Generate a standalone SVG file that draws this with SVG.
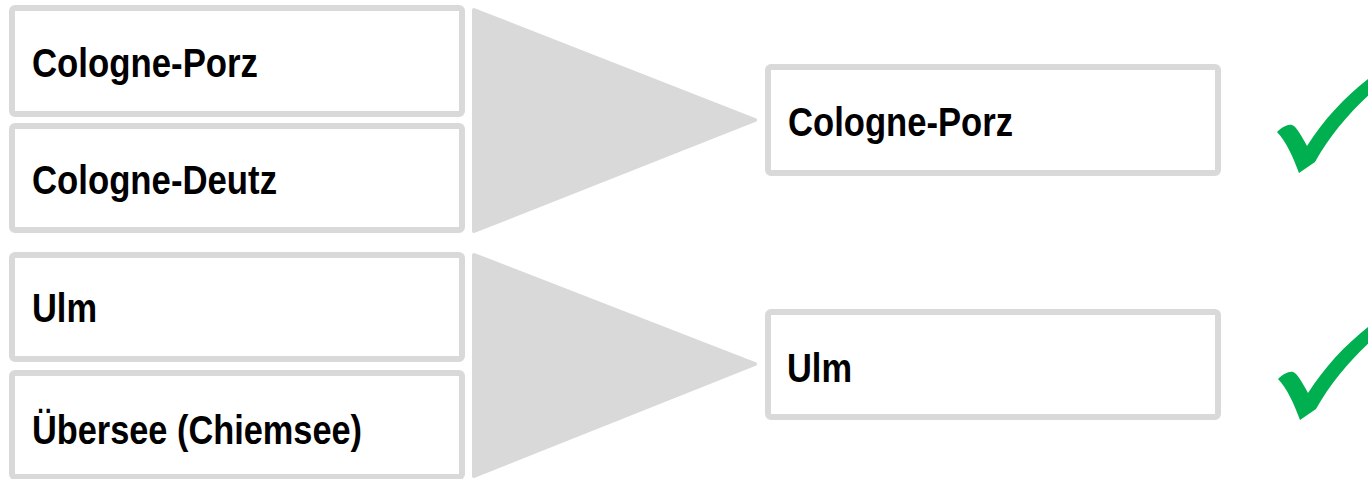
<svg xmlns="http://www.w3.org/2000/svg" width="1368" height="479" viewBox="0 0 1368 479">
  <style>
    .box { fill: #FFFFFF; stroke: #D9D9D9; stroke-width: 6; }
    .funnel { fill: #D9D9D9; stroke: #D9D9D9; stroke-width: 4; stroke-linejoin: round; }
    .label { font-family: "Liberation Sans", Arial, sans-serif; font-weight: bold; font-size: 40px; fill: #000000; }
    .check { fill: #00B050; }
  </style>
  <defs>
    <path id="tick" class="check" d="M1277,132 C1282,127 1288,124 1292,125 C1297,127 1302,137 1307,146 C1325,118 1346,96 1372,76 L1372,92 C1350,112 1330,135 1315,162 L1299,173 C1293,157 1286,141 1277,132 Z"/>
  </defs>
  <rect width="1368" height="479" fill="#FFFFFF"/>

  <!-- merge arrows -->
  <g id="connectors">
    <polygon class="funnel" points="474,10 755,120 474,231"/>
    <polygon class="funnel" points="474,255 755,364 474,476"/>
  </g>

  <!-- input locations, first group -->
  <g id="in-cologne-porz">
    <rect class="box" x="12" y="8" width="450" height="106" rx="3"/>
    <text class="label" x="32" y="77" textLength="226" lengthAdjust="spacingAndGlyphs">Cologne-Porz</text>
  </g>
  <g id="in-cologne-deutz">
    <rect class="box" x="12" y="126" width="450" height="104" rx="3"/>
    <text class="label" x="32" y="194" textLength="245" lengthAdjust="spacingAndGlyphs">Cologne-Deutz</text>
  </g>

  <!-- input locations, second group -->
  <g id="in-ulm">
    <rect class="box" x="12" y="255" width="450" height="104" rx="3"/>
    <text class="label" x="32" y="322" textLength="65" lengthAdjust="spacingAndGlyphs">Ulm</text>
  </g>
  <g id="in-uebersee">
    <rect class="box" x="12" y="373" width="450" height="104" rx="3"/>
    <text class="label" x="32" y="444" textLength="330" lengthAdjust="spacingAndGlyphs">Übersee (Chiemsee)</text>
  </g>

  <!-- results -->
  <g id="out-cologne-porz">
    <rect class="box" x="768" y="67" width="450" height="106" rx="3"/>
    <text class="label" x="788" y="136" textLength="225" lengthAdjust="spacingAndGlyphs">Cologne-Porz</text>
  </g>
  <g id="out-ulm">
    <rect class="box" x="768" y="312" width="450" height="105" rx="3"/>
    <text class="label" x="787" y="382" textLength="65" lengthAdjust="spacingAndGlyphs">Ulm</text>
  </g>

  <!-- check marks -->
  <g id="check-1">
    <use href="#tick"/>
  </g>
  <g id="check-2">
    <use href="#tick" transform="translate(1,247)"/>
  </g>
</svg>
